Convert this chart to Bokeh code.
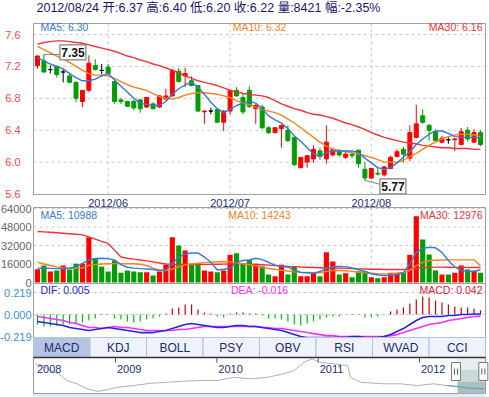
import datetime as dt
from bokeh.plotting import figure
from bokeh.models import Range1d, LinearAxis, FixedTicker, PrintfTickFormatter
from bokeh.embed import file_html
from bokeh.resources import INLINE
from bokeh.core.properties import value

try:
    from bokeh.models import GlobalInlineStyleSheet
except Exception:
    GlobalInlineStyleSheet = None

# ------------------------------------------------------------------ data
first_date = "2012/05/17"
last_date = "2012/08/24"
month_tick_idx = [11, 30, 52]
month_labels = ["2012/06", "2012/07", "2012/08"]

opens = [7.21, 7.27, 7.16, 7.20, 7.13, 7.08, 7.00, 6.76, 6.90, 7.21,
         7.15, 7.19, 7.01, 6.78, 6.76, 6.76, 6.78, 6.69, 6.73, 6.69,
         6.79, 6.83, 7.14, 7.08, 7.02, 6.96, 6.63, 6.64, 6.66, 6.50,
         6.64, 6.90, 6.81, 6.90, 6.67, 6.69, 6.43, 6.37, 6.42, 6.40,
         6.31, 5.93, 6.00, 6.04, 6.14, 6.04, 6.09, 6.13, 6.06, 6.10,
         6.15, 5.91, 5.80, 5.86, 5.84, 5.92, 6.07, 6.16, 6.05, 6.31,
         6.58, 6.46, 6.38, 6.25, 6.28, 6.28, 6.22, 6.40, 6.25, 6.37]
highs = [7.34, 7.35, 7.21, 7.21, 7.17, 7.12, 7.01, 6.90, 7.34, 7.29,
         7.23, 7.23, 7.01, 6.81, 6.77, 6.78, 6.79, 6.82, 6.75, 6.84,
         6.92, 7.17, 7.18, 7.18, 7.08, 6.97, 6.65, 6.68, 6.66, 6.65,
         6.91, 6.94, 6.86, 6.95, 6.73, 6.72, 6.45, 6.44, 6.47, 6.46,
         6.32, 6.06, 6.09, 6.21, 6.18, 6.46, 6.18, 6.16, 6.13, 6.13,
         6.15, 6.00, 5.93, 5.93, 5.95, 6.08, 6.16, 6.19, 6.46, 6.72,
         6.66, 6.48, 6.41, 6.33, 6.31, 6.30, 6.43, 6.44, 6.41, 6.40]
lows = [7.17, 7.12, 7.11, 7.06, 7.00, 6.99, 6.75, 6.69, 6.88, 7.15,
        7.10, 7.10, 6.73, 6.73, 6.69, 6.65, 6.62, 6.68, 6.66, 6.68,
        6.78, 6.82, 7.00, 6.94, 6.95, 6.63, 6.48, 6.60, 6.50, 6.39,
        6.60, 6.82, 6.60, 6.68, 6.48, 6.42, 6.35, 6.36, 6.18, 6.25,
        5.95, 5.93, 5.93, 5.99, 6.03, 5.98, 6.07, 6.07, 6.04, 6.05,
        5.93, 5.77, 5.79, 5.83, 5.82, 5.91, 6.06, 5.99, 6.01, 6.30,
        6.48, 6.27, 6.26, 6.24, 6.23, 6.14, 6.21, 6.26, 6.24, 6.20]
closes = [7.33, 7.13, 7.16, 7.10, 7.13, 7.00, 6.80, 6.90, 7.24, 7.16,
          7.15, 7.11, 6.76, 6.76, 6.70, 6.68, 6.67, 6.81, 6.67, 6.83,
          6.83, 7.15, 7.01, 7.11, 6.96, 6.64, 6.64, 6.64, 6.50, 6.64,
          6.90, 6.83, 6.63, 6.70, 6.71, 6.43, 6.37, 6.43, 6.46, 6.27,
          5.97, 6.06, 6.08, 6.16, 6.07, 6.25, 6.16, 6.09, 6.10, 6.08,
          5.98, 5.80, 5.92, 5.85, 5.94, 6.06, 6.13, 6.10, 6.37, 6.48,
          6.50, 6.40, 6.27, 6.30, 6.28, 6.29, 6.38, 6.29, 6.37, 6.22]
volumes = [11500, 14700, 9500, 10400, 14700, 11200, 16200, 16200, 39200, 21000,
           13800, 9500, 19000, 8400, 10400, 9500, 8900, 8900, 6000, 9500,
           15300, 39200, 32000, 27700, 16200, 16500, 10400, 9500, 8900, 10400,
           24000, 25400, 16200, 19600, 16200, 14100, 6900, 5500, 15300, 6900,
           13300, 5500, 5500, 8400, 5500, 26200, 18200, 6900, 8100, 4600,
           9800, 9800, 4600, 3700, 4600, 8400, 8400, 8900, 24000, 57300,
           37200, 24200, 10400, 6900, 6900, 8400, 14700, 11200, 10400, 8421]
ma5 = [7.31, 7.27, 7.23, 7.20, 7.17, 7.11, 7.06, 7.02, 7.02, 7.04,
       7.08, 7.11, 7.03, 6.95, 6.88, 6.80, 6.74, 6.72, 6.71, 6.71,
       6.76, 6.85, 6.92, 6.97, 7.00, 6.94, 6.85, 6.75, 6.67, 6.62,
       6.66, 6.71, 6.74, 6.76, 6.74, 6.67, 6.58, 6.53, 6.49, 6.42,
       6.33, 6.26, 6.18, 6.10, 6.07, 6.12, 6.14, 6.14, 6.14, 6.14,
       6.12, 6.05, 5.99, 5.93, 5.91, 5.93, 5.99, 6.06, 6.13, 6.22,
       6.29, 6.35, 6.39, 6.39, 6.36, 6.32, 6.31, 6.31, 6.31, 6.30]
ma10 = [7.45, 7.41, 7.37, 7.33, 7.29, 7.25, 7.20, 7.15, 7.11, 7.09,
        7.09, 7.08, 7.05, 7.01, 6.97, 6.94, 6.92, 6.90, 6.86, 6.82,
        6.80, 6.79, 6.81, 6.84, 6.86, 6.87, 6.87, 6.86, 6.85, 6.83,
        6.81, 6.77, 6.74, 6.72, 6.69, 6.66, 6.64, 6.62, 6.59, 6.54,
        6.49, 6.43, 6.37, 6.31, 6.25, 6.20, 6.16, 6.15, 6.13, 6.12,
        6.10, 6.08, 6.06, 6.03, 6.00, 6.00, 6.00, 6.02, 6.07, 6.11,
        6.16, 6.21, 6.25, 6.29, 6.32, 6.34, 6.35, 6.35, 6.34, 6.32]
ma30 = [7.48, 7.50, 7.51, 7.52, 7.52, 7.51, 7.50, 7.49, 7.47, 7.45,
        7.43, 7.41, 7.39, 7.36, 7.33, 7.31, 7.28, 7.26, 7.23, 7.21,
        7.18, 7.15, 7.12, 7.08, 7.05, 7.02, 7.00, 6.98, 6.96, 6.93,
        6.90, 6.88, 6.86, 6.85, 6.84, 6.83, 6.81, 6.77, 6.73, 6.70,
        6.67, 6.65, 6.62, 6.60, 6.59, 6.57, 6.55, 6.52, 6.49, 6.47,
        6.44, 6.41, 6.37, 6.34, 6.31, 6.29, 6.27, 6.25, 6.24, 6.23,
        6.21, 6.20, 6.19, 6.18, 6.18, 6.17, 6.17, 6.17, 6.16, 6.16]
vol_ma5 = [12400, 12300, 12200, 12000, 11900, 12300, 13500, 16500, 19500, 20800,
           21000, 20600, 19500, 15500, 13200, 12400, 12000, 11700, 11200, 10400,
           11000, 16500, 21900, 24500, 25500, 25600, 22000, 17500, 10800, 11500,
           12400, 17600, 19000, 19500, 21000, 19800, 17500, 15000, 14000, 13300,
           11000, 8700, 8400, 8000, 9500, 12000, 13800, 13800, 13700, 12500,
           11200, 9500, 7600, 6500, 6000, 6100, 6900, 8400, 16000, 26000,
           29500, 30500, 30000, 26000, 19000, 13500, 10400, 9800, 9500, 10988]
vol_ma10 = [17600, 16000, 14700, 13500, 12600, 12400, 12300, 12400, 14800, 15500,
            16000, 16200, 16300, 16300, 16200, 16200, 15800, 14700, 12500, 10600,
            10400, 11500, 13600, 15300, 15900, 16700, 17200, 17600, 18000, 18100,
            17800, 17000, 16200, 15300, 14400, 13200, 12100, 11400, 10600, 9900,
            9200, 8900, 8700, 8500, 8400, 9500, 10400, 10400, 10100, 9600,
            8900, 8400, 8000, 7600, 7500, 7700, 8000, 8400, 10400, 14600,
            17400, 19000, 19300, 19500, 19600, 19600, 19600, 19600, 19600, 14243]
vol_ma30 = [44100, 43800, 43400, 43000, 42600, 42200, 41700, 41200, 39500, 37500,
            35500, 33800, 28000, 22000, 21000, 20200, 19500, 18700, 17800, 16900,
            16000, 15700, 15600, 15600, 15600, 15600, 15700, 15700, 15800, 15900,
            16000, 16100, 16100, 15900, 15600, 15300, 15000, 14600, 14300, 13900,
            13700, 13400, 13200, 13000, 12800, 12600, 12500, 12400, 12200, 12000,
            11800, 11700, 11500, 11400, 11300, 11250, 11200, 11300, 11600, 12100,
            12700, 13100, 13300, 13300, 13200, 13100, 13100, 13000, 13000, 12976]
dif = [-0.07, -0.08, -0.09, -0.10, -0.11, -0.13, -0.14, -0.15, -0.16, -0.15,
       -0.14, -0.13, -0.14, -0.15, -0.16, -0.17, -0.18, -0.18, -0.18, -0.17,
       -0.16, -0.14, -0.12, -0.10, -0.09, -0.10, -0.11, -0.12, -0.13, -0.13,
       -0.12, -0.11, -0.11, -0.12, -0.12, -0.13, -0.14, -0.15, -0.16, -0.18,
       -0.20, -0.22, -0.23, -0.23, -0.23, -0.23, -0.23, -0.23, -0.23, -0.22,
       -0.22, -0.23, -0.23, -0.23, -0.22, -0.20, -0.17, -0.14, -0.10, -0.06,
       -0.03, -0.02, -0.02, -0.02, -0.01, -0.01, 0.00, 0.00, 0.005, 0.005]
dea = [-0.02, -0.03, -0.04, -0.05, -0.06, -0.08, -0.09, -0.11, -0.13, -0.13,
       -0.14, -0.13, -0.12, -0.13, -0.13, -0.14, -0.15, -0.16, -0.16, -0.16,
       -0.16, -0.16, -0.15, -0.15, -0.14, -0.13, -0.12, -0.12, -0.12, -0.12,
       -0.12, -0.12, -0.12, -0.12, -0.12, -0.13, -0.13, -0.14, -0.14, -0.15,
       -0.16, -0.17, -0.18, -0.19, -0.20, -0.21, -0.21, -0.22, -0.22, -0.22,
       -0.22, -0.22, -0.22, -0.22, -0.22, -0.21, -0.20, -0.18, -0.16, -0.14,
       -0.12, -0.10, -0.09, -0.08, -0.06, -0.05, -0.04, -0.03, -0.02, -0.016]
macd_hist = [-0.10, -0.12, -0.12, -0.11, -0.10, -0.10, -0.09, -0.08, -0.06, -0.04,
             -0.005, 0.003, -0.04, -0.05, -0.07, -0.08, -0.07, -0.05, -0.04, -0.02,
             0.01, 0.06, 0.07, 0.10, 0.10, 0.05, 0.02, 0.01, -0.02, -0.03,
             0.01, 0.02, 0.02, 0.01, 0.01, -0.01, -0.04, -0.04, -0.05, -0.07,
             -0.10, -0.11, -0.09, -0.07, -0.05, -0.03, -0.02, -0.02, 0.003, 0.005,
             0.003, -0.03, -0.03, -0.02, 0.003, 0.03, 0.05, 0.07, 0.11, 0.15,
             0.18, 0.17, 0.14, 0.12, 0.10, 0.08, 0.07, 0.07, 0.06, 0.042]

price_ticks = [5.6, 6.0, 6.4, 6.8, 7.2, 7.6]
vol_ticks = [0, 16000, 32000, 48000, 64000]
macd_ticks = [-0.219, 0.0, 0.219]

tab_names = ["MACD", "KDJ", "BOLL", "PSY", "OBV", "RSI", "WVAD", "CCI"]
active_tab = "MACD"

hist_years = [2008.21, 2008.29, 2008.36, 2008.44, 2008.52, 2008.62, 2008.72, 2008.82,
              2008.92, 2009.02, 2009.18, 2009.35, 2009.51, 2009.67, 2009.84, 2010.00,
              2010.17, 2010.33, 2010.50, 2010.66, 2010.76, 2010.86, 2010.94, 2011.01,
              2011.15, 2011.29, 2011.32, 2011.42, 2011.65, 2011.81, 2011.98, 2012.14,
              2012.27, 2012.37, 2012.47, 2012.64]
hist_prices = [14.6, 14.0, 12.3, 11.2, 8.9, 7.8, 6.1, 5.2,
               5.8, 6.6, 7.2, 8.0, 8.3, 8.7, 8.9, 8.9,
               10.0, 9.5, 10.0, 11.2, 12.3, 15.1, 16.3, 15.1,
               14.6, 14.0, 10.0, 8.3, 7.8, 7.8, 7.2, 7.8,
               7.2, 6.9, 6.4, 6.1]
year_ticks = [2008, 2009, 2010, 2011, 2012]

# ------------------------------------------------------------------ layout (pixels)
W, H = 489, 397
PL, PR = 33, 485
PRICE_T, PRICE_B = 23, 194
VOL_T, VOL_B = 207, 283
MACD_T, MACD_B = 283, 337
TAB_T, TAB_B = 337, 357
NAV_T, NAV_B = 357, 393

UP, DN, DOJI = "#ff0000", "#009e00", "#000000"
C_MA5, C_MA10, C_MA30 = "#3779d4", "#f5821f", "#f03238"
C_DIF, C_DEA, C_MACD = "#2424e0", "#ff2cff", "#e0203c"
GRID = "#c8c8c8"
FRAME = "#a0a0a0"
FONT = value("Liberation Sans")
FONT_CJK = value("Liberation Sans, Noto Sans CJK SC")


def vrange(v1, y1, v2, y2):
    s = (v2 - v1) / (y2 - y1)
    return Range1d(start=v1 + (H - y1) * s, end=v1 + (0 - y1) * s)


def hrange(v1, x1, v2, x2):
    s = (v2 - v1) / (x2 - x1)
    return Range1d(start=v1 + (0 - x1) * s, end=v1 + (W - x1) * s)


X0, DX = 37.0, 6.42          # pixel of first candle, pixels per candle
n = len(closes)
idx = list(range(n))


def px_to_idx(px):
    return (px - X0) / DX


PRICE_PPU = (193.5 - 34.0) / (7.6 - 5.6)

p = figure(width=W, height=H,
           x_range=hrange(0, X0, n - 1, X0 + (n - 1) * DX),
           y_range=vrange(7.6, 34.0, 5.6, 193.5),
           x_axis_type=None, y_axis_type=None,
           toolbar_location=None, output_backend="svg",
           min_border=0, min_border_left=0, min_border_right=0,
           min_border_top=0, min_border_bottom=0,
           outline_line_color=None, background_fill_color="white",
           border_fill_color="white")
p.extra_x_ranges = {"px": Range1d(0, W), "yr": hrange(2009, 115, 2012, 419)}
p.extra_y_ranges = {"px": Range1d(H, 0),
                    "vol": vrange(64000, 208, 0, 282),
                    "macd": vrange(0.219, 292, 0.0, 314),
                    "ov": vrange(16.74, 357, 4.5, 393)}

PXR = dict(x_range_name="px", y_range_name="px")

# ------------------------------------------------------------------ header
o, h, l, c, v = opens[-1], highs[-1], lows[-1], closes[-1], volumes[-1]
chg = (c / closes[-2] - 1) * 100
header = f"{last_date} 开:{o:.2f} 高:{h:.2f} 低:{l:.2f} 收:{c:.2f} 量:{v} 幅:{chg:.2f}%"
p.text(x=[36], y=[7], text=[header], text_font=FONT_CJK, text_font_size="12.5px",
       text_color="#16166a", text_align="left", text_baseline="middle", **PXR)

# ------------------------------------------------------------------ grids
p.segment(x0=PL, x1=PR, y0=price_ticks[1:], y1=price_ticks[1:], x_range_name="px",
          line_color=GRID, line_dash="3 3", line_width=1)
p.segment(x0=PL, x1=PR, y0=vol_ticks[1:], y1=vol_ticks[1:], x_range_name="px",
          y_range_name="vol", line_color=GRID, line_dash="3 3", line_width=1)
p.segment(x0=PL, x1=PR, y0=macd_ticks[1:], y1=macd_ticks[1:], x_range_name="px",
          y_range_name="macd", line_color=GRID, line_dash="3 3", line_width=1)
for top, bot in ((PRICE_T, PRICE_B), (VOL_T, VOL_B)):
    p.segment(x0=month_tick_idx, x1=month_tick_idx, y0=top, y1=bot, y_range_name="px",
              line_color=GRID, line_dash="3 3", line_width=1)

# ------------------------------------------------------------------ candles
ccol = [UP if cc > oo else (DN if cc < oo else DOJI) for oo, cc in zip(opens, closes)]
vcol = []
for i, (oo, cc) in enumerate(zip(opens, closes)):
    if cc > oo:
        vcol.append(UP)
    elif cc < oo:
        vcol.append(DN)
    else:
        vcol.append(UP if i == 0 or cc >= closes[i - 1] else DN)

p.segment(x0=idx, x1=idx, y0=lows, y1=highs, line_color=ccol, line_width=1)
p.vbar(x=idx, width=0.62, top=[max(a, b) for a, b in zip(opens, closes)],
       bottom=[min(a, b) for a, b in zip(opens, closes)],
       fill_color=ccol, line_color=ccol, line_width=1)

p.line(idx, ma30, line_color=C_MA30, line_width=1.4)
p.line(idx, ma10, line_color=C_MA10, line_width=1.4)
p.line(idx, ma5, line_color=C_MA5, line_width=1.4)

# max / min markers
imax = max(idx, key=lambda i: highs[i])
imin = min(idx, key=lambda i: lows[i])
hx = imax + 29 / DX
hy = highs[imax] + 2 / PRICE_PPU
p.segment(x0=[imax], x1=[imax + 16 / DX], y0=[highs[imax]], y1=[highs[imax]],
          line_color="#808080", line_width=1)
p.rect(x=[hx], y=[hy], width=26, height=15, width_units="screen", height_units="screen",
       fill_color="white", line_color="#808080", line_width=1.2)
p.text(x=[hx], y=[hy], text=[f"{highs[imax]:.2f}"], text_font=FONT, text_font_style="bold",
       text_font_size="12px", text_color="#111111", text_align="center", text_baseline="middle")

lx = imin + 28 / DX
ly = lows[imin] - 6 / PRICE_PPU
p.segment(x0=[imin], x1=[imin + 16 / DX], y0=[lows[imin]], y1=[lows[imin] - 4 / PRICE_PPU],
          line_color="#808080", line_width=1)
p.rect(x=[lx], y=[ly], width=26, height=15, width_units="screen", height_units="screen",
       fill_color="white", line_color="#808080", line_width=1.2)
p.text(x=[lx], y=[ly], text=[f"{lows[imin]:.2f}"], text_font=FONT, text_font_style="bold",
       text_font_size="12px", text_color="#111111", text_align="center", text_baseline="middle")

# ------------------------------------------------------------------ volume
p.vbar(x=idx, width=0.8, top=volumes, bottom=0, y_range_name="vol",
       fill_color=vcol, line_color=None)
p.line(idx, vol_ma30, y_range_name="vol", line_color=C_MA30, line_width=1.4)
p.line(idx, vol_ma10, y_range_name="vol", line_color=C_MA10, line_width=1.4)
p.line(idx, vol_ma5, y_range_name="vol", line_color=C_MA5, line_width=1.4)

# ------------------------------------------------------------------ MACD
hcol = ["#cc0000" if hv >= 0 else "#00c000" for hv in macd_hist]
p.segment(x0=idx, x1=idx, y0=[0] * n, y1=macd_hist, y_range_name="macd",
          line_color=hcol, line_width=1.2)
p.line(idx, dea, y_range_name="macd", line_color=C_DEA, line_width=1.6)
p.line(idx, dif, y_range_name="macd", line_color=C_DIF, line_width=1.6)

# ------------------------------------------------------------------ panel frames
for top, bot in ((PRICE_T, PRICE_B), (VOL_T, VOL_B), (MACD_T, MACD_B)):
    p.quad(left=PL, right=PR, top=top, bottom=bot, fill_color=None,
           line_color=FRAME, line_width=1, **PXR)

# ------------------------------------------------------------------ legends
LEG = dict(text_font=FONT, text_font_size="10.5px", text_baseline="middle", **PXR)
for ypos, texts, cols in (
        (26, [f"MA5: {ma5[-1]:.2f}", f"MA10: {ma10[-1]:.2f}", f"MA30: {ma30[-1]:.2f}"],
         [C_MA5, C_MA10, C_MA30]),
        (214, [f"MA5: {vol_ma5[-1]}", f"MA10: {vol_ma10[-1]}", f"MA30: {vol_ma30[-1]}"],
         [C_MA5, C_MA10, C_MA30]),
        (289, [f"DIF: {dif[-1]:.3f}", f"DEA: {dea[-1]:.3f}", f"MACD: {macd_hist[-1]:.3f}"],
         [C_DIF, C_DEA, C_MACD])):
    p.text(x=[40], y=[ypos], text=[texts[0]], text_color=cols[0], text_align="left", **LEG)
    p.text(x=[259], y=[ypos], text=[texts[1]], text_color=cols[1], text_align="center", **LEG)
    p.text(x=[482], y=[ypos], text=[texts[2]], text_color=cols[2], text_align="right", **LEG)

# ------------------------------------------------------------------ axes
def style_axis(ax, color):
    ax.axis_line_color = None
    ax.major_tick_line_color = None
    ax.minor_tick_line_color = None
    ax.major_tick_out = 0
    ax.major_tick_in = 0
    ax.major_label_standoff = 2
    ax.major_label_text_font = "Liberation Sans"
    ax.major_label_text_font_size = "11px"
    ax.major_label_text_color = color


ax_price = LinearAxis(fixed_location=px_to_idx(22), ticker=FixedTicker(ticks=price_ticks),
                      formatter=PrintfTickFormatter(format="%.1f"))
style_axis(ax_price, "#f24b4b")
p.add_layout(ax_price, "left")

ax_vol = LinearAxis(y_range_name="vol", fixed_location=px_to_idx(33),
                    ticker=FixedTicker(ticks=vol_ticks), formatter=PrintfTickFormatter(format="%d"))
style_axis(ax_vol, "#666666")
p.add_layout(ax_vol, "left")

ax_macd = LinearAxis(y_range_name="macd", fixed_location=px_to_idx(33),
                     ticker=FixedTicker(ticks=macd_ticks), formatter=PrintfTickFormatter(format="%.3f"))
style_axis(ax_macd, "#3a8fdc")
p.add_layout(ax_macd, "left")

ax_date = LinearAxis(fixed_location=7.6 - (196 - 34.0) / PRICE_PPU,
                     ticker=FixedTicker(ticks=month_tick_idx),
                     major_label_overrides={t: s for t, s in zip(month_tick_idx, month_labels)})
style_axis(ax_date, "#1c2f80")
ax_date.major_label_standoff = 0
p.add_layout(ax_date, "below")

# ------------------------------------------------------------------ indicator tabs
tw = (PR - PL) / len(tab_names)
lefts = [PL + i * tw for i in range(len(tab_names))]
p.quad(left=lefts, right=[x + tw for x in lefts], top=TAB_T, bottom=TAB_B,
       fill_color=["#b3c5e3" if t == active_tab else "#eef2fa" for t in tab_names],
       line_color="#b4c2dc", line_width=1, **PXR)
p.text(x=[x + tw / 2 for x in lefts], y=[TAB_B - 10] * len(tab_names), text=tab_names,
       text_font=FONT, text_font_size="12px", text_color="#1d2a6b",
       text_align="center", text_baseline="middle", **PXR)

# ------------------------------------------------------------------ navigator
def frac_year(s):
    d = dt.datetime.strptime(s, "%Y/%m/%d")
    a, b = dt.datetime(d.year, 1, 1), dt.datetime(d.year + 1, 1, 1)
    return d.year + (d - a) / (b - a)


sel0, sel1 = frac_year(first_date), frac_year(last_date)
p.quad(left=PL, right=PR, top=NAV_T, bottom=NAV_B, fill_color="white",
       line_color="#9a9a9a", line_width=1, **PXR)
for t, b, col in ((NAV_T + 1, NAV_T + 12, "#e6efef"), (NAV_T + 12, NAV_T + 24, "#c9dada"),
                  (NAV_T + 24, NAV_B, "#a9c1c1")):
    p.quad(left=sel0, right=sel1, top=t, bottom=b, x_range_name="yr", y_range_name="px",
           fill_color=col, line_color=None)
p.line(hist_years, hist_prices, x_range_name="yr", y_range_name="ov",
       line_color="#b0b0b0", line_width=1)
sel_y = [y for y in hist_years if y >= sel0 - 0.11]
sel_p = hist_prices[len(hist_years) - len(sel_y):]
p.line(sel_y, sel_p, x_range_name="yr", y_range_name="ov", line_color="#5b98c8", line_width=1)

p.segment(x0=PL, x1=PR, y0=NAV_T, y1=NAV_T, line_color="#333333", line_width=1.5, **PXR)
yr_px = 101.33
p.segment(x0=year_ticks[1:], x1=year_ticks[1:], y0=NAV_T, y1=NAV_T + 5,
          x_range_name="yr", y_range_name="px", line_color="#555555", line_width=1)
nav_left_year = 2009 + (PL + 2 - 115) / yr_px
p.text(x=[max(yv, nav_left_year) + 1.5 / yr_px for yv in year_ticks], y=[NAV_T + 11] * len(year_ticks),
       text=[str(yv) for yv in year_ticks], x_range_name="yr", y_range_name="px",
       text_font=FONT, text_font_size="11px", text_color="#1c2f80",
       text_align="left", text_baseline="middle")

# handles
for yv in (sel0, sel1):
    p.rect(x=[yv - 1.5 / yr_px], y=[NAV_T + 14], width=9, height=18, width_units="screen",
           height_units="screen", x_range_name="yr", y_range_name="px",
           fill_color="white", line_color="#7a7a7a", line_width=1)
    p.segment(x0=[yv - 3 / yr_px, yv], x1=[yv - 3 / yr_px, yv], y0=NAV_T + 11, y1=NAV_T + 17,
              x_range_name="yr", y_range_name="px", line_color="#555555", line_width=1)

p.quad(left=PL, right=PR, top=NAV_B + 0.5, bottom=H, fill_color="#e3ecf7", line_color=None, **PXR)

if GlobalInlineStyleSheet is not None:
    p.stylesheets = [GlobalInlineStyleSheet(
        css="html, body { margin: 0 !important; padding: 0 !important; overflow: hidden; }")]

open("out.html", "w").write(file_html(p, INLINE))
